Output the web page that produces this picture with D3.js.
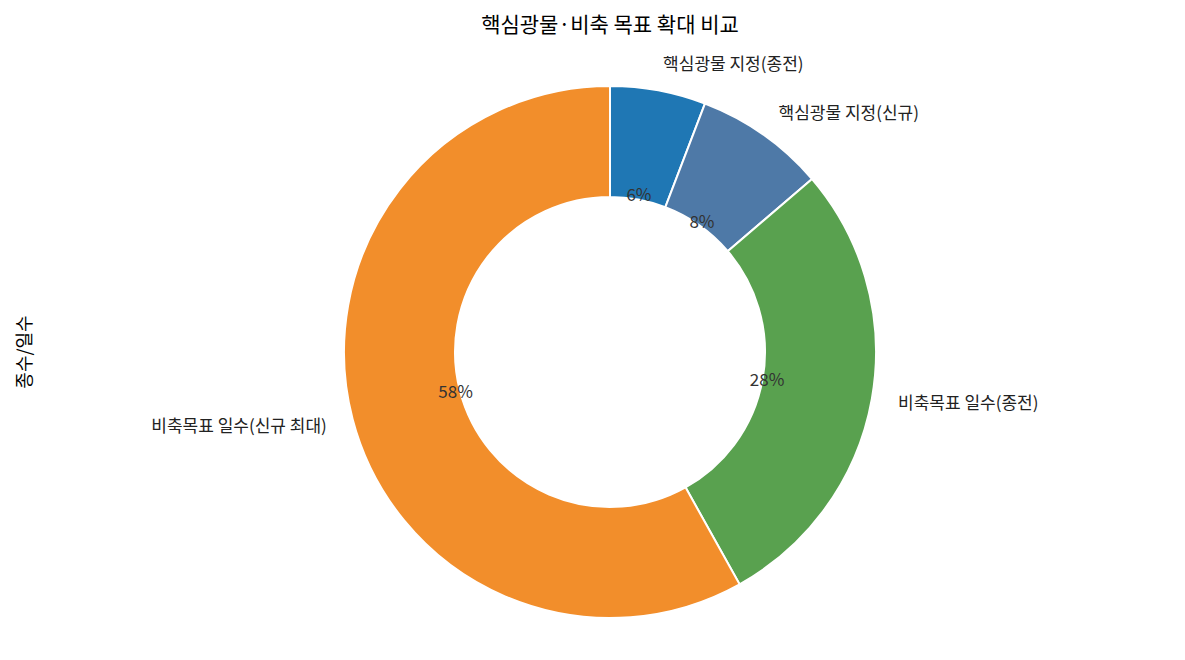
<!DOCTYPE html><html><head><meta charset="utf-8"><script src="https://cdn.jsdelivr.net/npm/d3@7"></script>
<style>body{margin:0;background:#fff}text{font-family:"Noto Sans CJK KR","Noto Sans",sans-serif}</style></head><body><svg width="1185" height="660"></svg><script>
const categories=["핵심광물 지정(종전)","핵심광물 지정(신규)","비축목표 일수(종전)","비축목표 일수(신규 최대)"];
const values=[33,45,160,330];
const colors=["#1f77b4","#4e79a7","#59a14f","#f28e2b"];
const svg=d3.select("svg");
const cx=610,cy=352,R=266,r0=155;
const pie=d3.pie().sort(null)(values);
const total=d3.sum(values);
const g=svg.append("g").attr("transform",`translate(${cx},${cy})`);
const arc=d3.arc().innerRadius(r0).outerRadius(R);
g.selectAll("path").data(pie).join("path").attr("d",arc).attr("fill",(d,i)=>colors[i]).attr("stroke","#fff").attr("stroke-width",2);
const mid=d=>(d.startAngle+d.endAngle)/2;
g.selectAll(".pct").data(pie).join("text").attr("x",d=>Math.sin(mid(d))*R*0.6).attr("y",d=>-Math.cos(mid(d))*R*0.6).attr("text-anchor","middle").attr("dy","0.35em").attr("font-size",17).attr("fill","#333").text(d=>Math.round(d.value/total*100)+"%");
g.selectAll(".lab").data(pie).join("text").attr("x",d=>Math.sin(mid(d))*R*1.1).attr("y",d=>-Math.cos(mid(d))*R*1.1).attr("text-anchor",d=>Math.sin(mid(d))>=0?"start":"end").attr("dy","0.35em").attr("font-size",17).attr("fill","#222").text((d,i)=>categories[i]);
svg.append("text").attr("x",610).attr("y",25).attr("text-anchor","middle").attr("dy","0.35em").attr("font-size",21).text("핵심광물·비축 목표 확대 비교");
svg.append("text").attr("transform","translate(25,352) rotate(-90)").attr("text-anchor","middle").attr("dy","0.35em").attr("font-size",18).text("종수/일수");
</script></body></html>
